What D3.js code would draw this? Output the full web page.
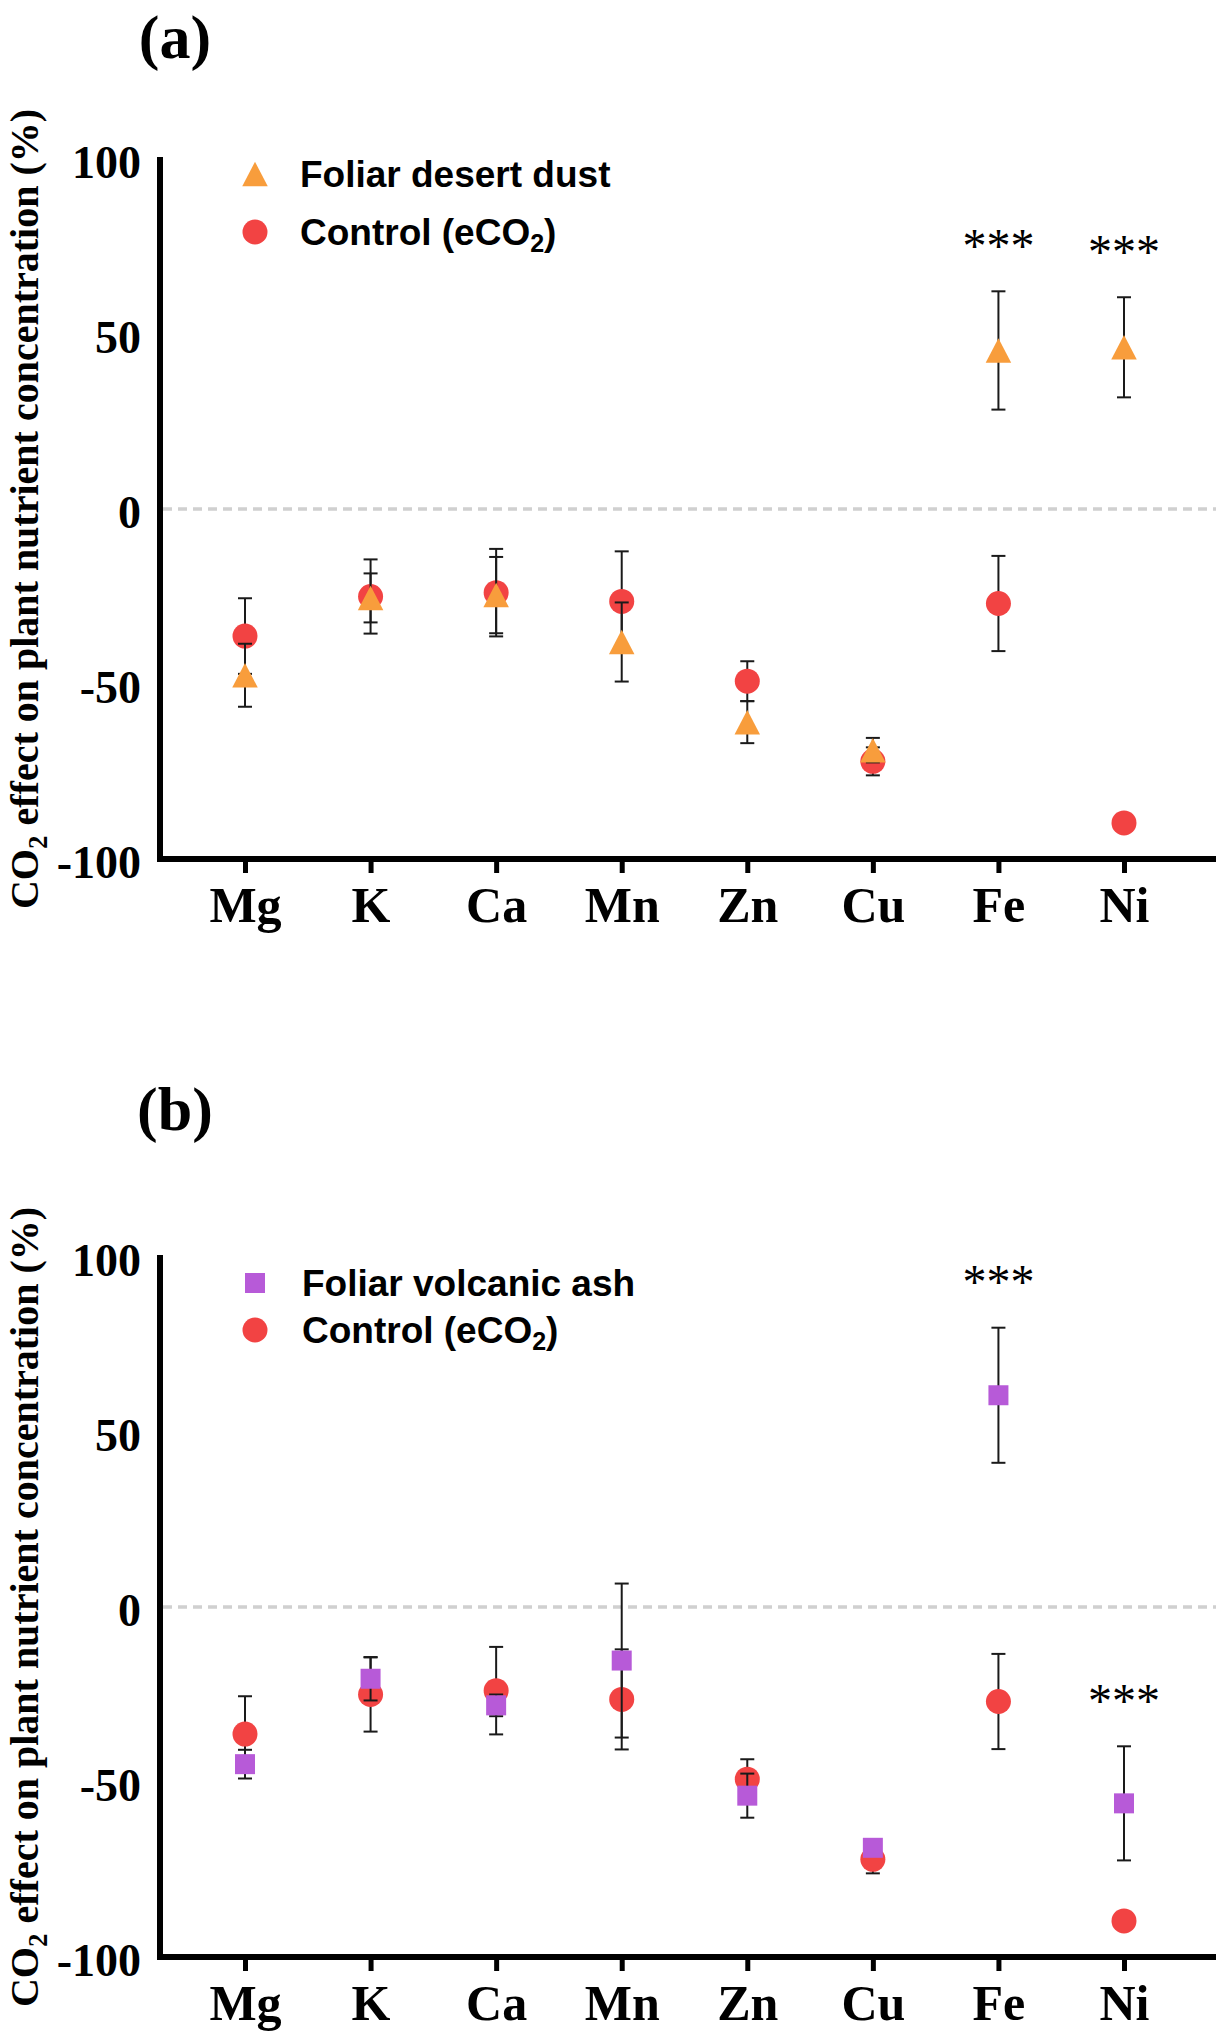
<!DOCTYPE html>
<html>
<head>
<meta charset="utf-8">
<script src="https://cdn.jsdelivr.net/npm/d3@7"></script>
<style>
  body { margin: 0; background: #fff; }
  svg { display: block; }
  .serif { font-family: "Liberation Serif", "Times New Roman", serif; font-weight: bold; }
  .sans  { font-family: "Liberation Sans", Arial, sans-serif; font-weight: bold; }
</style>
</head>
<body>
<div id="chart"></div>
<script>
// === CO2 effect on nutrient concentration, two panels — D3 v7 ===

// data
const elements = ["Mg", "K", "Ca", "Mn", "Zn", "Cu", "Fe", "Ni"];
const yTicks = [-100, -50, 0, 50, 100];

const controlMean = [-36.3, -25.0, -23.9, -26.4, -49.2, -72.1, -27.0, -89.7];
const controlErr  = [10.8, 10.6, 12.5, 14.3, 5.7, 4.0, 13.6, 0];

const dustMean = [-47.5, -25.4, -24.6, -38.0, -60.9, -68.9, 45.3, 46.2];
const dustErr  = [9.0, 7.0, 10.9, 11.3, 6.0, 3.5, 16.9, 14.3];
const dustSig  = ["Fe", "Ni"];

const ashMean = [-44.9, -20.5, -28.1, -15.3, -53.9, -68.8, 60.5, -56.1];
const ashErr  = [4.1, 6.2, 3.1, 22.0, 6.3, 2.0, 19.3, 16.3];
const ashSig  = ["Fe", "Ni"];

// sizing
const W = 1224, H = 2032;
const axisLeft = 160, axisRight = 1216;
const red = "#f24343", orange = "#f89d3c", purple = "#b75ad8";

const svg = d3.select("#chart").append("svg")
  .attr("width", W)
  .attr("height", H);
svg.append("rect").attr("width", W).attr("height", H).attr("fill", "#fff");

const x = d3.scalePoint().domain(elements).range([245, 1124]);

// triangle centred on its bounding box (size = width)
const triangle = {
  draw(ctx, size) {
    const w = size, h = size * 0.96;
    ctx.moveTo(0, -h / 2);
    ctx.lineTo(w / 2, h / 2);
    ctx.lineTo(-w / 2, h / 2);
    ctx.closePath();
  }
};
const sym = {
  circle:   d3.symbol().type(d3.symbolCircle).size(Math.PI * 12.5 * 12.5),
  square:   d3.symbol().type(d3.symbolSquare).size(400),
  triangle: d3.symbol().type(triangle).size(25.5)
};

function addCO2(textSel, before, after, subSize, shift) {
  textSel.append("tspan").text(before);
  textSel.append("tspan").attr("font-size", subSize).attr("dy", shift).text("2");
  textSel.append("tspan").attr("dy", -shift).text(after);
}

function drawPanel(p) {
  const g = svg.append("g");
  const y = d3.scaleLinear().domain([-100, 100]).range([p.top + 700, p.top]);

  // panel letter
  g.append("text").attr("class", "serif")
    .attr("x", 175).attr("y", p.letterY)
    .attr("text-anchor", "middle").attr("font-size", 62)
    .text(p.letter);

  // zero reference line
  g.append("line")
    .attr("x1", axisLeft + 3).attr("x2", axisRight)
    .attr("y1", y(0)).attr("y2", y(0))
    .attr("stroke", "#d0d0d0").attr("stroke-width", 3.5)
    .attr("stroke-dasharray", "9,6");

  // y axis
  const yAxisG = g.append("g").attr("transform", `translate(${axisLeft},0)`)
    .call(d3.axisLeft(y).tickValues(yTicks).tickSize(0).tickPadding(19)
      .tickFormat(d => String(d)));
  yAxisG.select(".domain").remove();
  yAxisG.selectAll("text").attr("class", "serif").attr("font-size", 46)
    .attr("dy", "0.4em").attr("fill", "#000");

  // x axis
  const xAxisG = g.append("g").attr("transform", `translate(0,${y(-100)})`)
    .call(d3.axisBottom(x).tickSize(14).tickSizeOuter(0));
  xAxisG.select(".domain").remove();
  xAxisG.selectAll(".tick line").attr("stroke", "#000").attr("stroke-width", 5);
  xAxisG.selectAll("text").attr("class", "serif").attr("font-size", 50)
    .attr("y", 63).attr("dy", 0).attr("fill", "#000");

  // axis lines
  g.append("line").attr("x1", axisLeft).attr("x2", axisLeft)
    .attr("y1", y(100) - 2).attr("y2", y(-100))
    .attr("stroke", "#000").attr("stroke-width", 6);
  g.append("line").attr("x1", axisLeft - 3).attr("x2", axisRight)
    .attr("y1", y(-100)).attr("y2", y(-100))
    .attr("stroke", "#000").attr("stroke-width", 6);

  // y axis title
  const yt = g.append("text").attr("class", "serif")
    .attr("transform", `translate(38,${y(0)}) rotate(-90)`)
    .attr("text-anchor", "middle").attr("font-size", 40);
  addCO2(yt, "CO", " effect on plant nutrient concentration (%)", 27, 9);

  // one series: error bars then markers
  function series(means, errs, shape, color) {
    const rows = elements.map((el, i) => ({ el, m: means[i], e: errs[i] }));
    const bars = g.append("g").attr("stroke", "#1a1a1a").attr("stroke-width", 2)
      .selectAll("g").data(rows.filter(d => d.e > 0)).join("g");
    bars.append("line")
      .attr("x1", d => x(d.el)).attr("x2", d => x(d.el))
      .attr("y1", d => y(d.m - d.e)).attr("y2", d => y(d.m + d.e));
    bars.selectAll("line.cap").data(d => [d.m - d.e, d.m + d.e].map(v => ({ el: d.el, v })))
      .join("line").attr("class", "cap")
      .attr("x1", d => x(d.el) - 7).attr("x2", d => x(d.el) + 7)
      .attr("y1", d => y(d.v)).attr("y2", d => y(d.v));
    g.append("g").selectAll("path").data(rows).join("path")
      .attr("d", shape)
      .attr("transform", d => `translate(${x(d.el)},${y(d.m)})`)
      .attr("fill", color);
    return rows;
  }

  series(controlMean, controlErr, sym.circle, red);
  const treat = series(p.means, p.errs, p.shape, p.color);

  // significance stars
  g.append("g").selectAll("text").data(treat.filter(d => p.sig.includes(d.el))).join("text")
    .attr("x", d => x(d.el))
    .attr("y", d => y(d.m + d.e + 15) + 23)
    .attr("text-anchor", "middle")
    .attr("font-family", "'Liberation Serif', 'Times New Roman', serif")
    .attr("font-size", 48)
    .text("***");

  // legend
  const lg = g.append("g");
  const r1 = p.legendY[0], r2 = p.legendY[1];
  lg.append("path").attr("d", p.shape).attr("fill", p.color)
    .attr("transform", `translate(255,${r1})`);
  lg.append("text").attr("class", "sans").attr("font-size", 37)
    .attr("x", p.legendX).attr("y", r1 + 13).text(p.name);
  lg.append("path").attr("d", sym.circle).attr("fill", red)
    .attr("transform", `translate(255,${r2})`);
  const ct = lg.append("text").attr("class", "sans").attr("font-size", 37)
    .attr("x", p.legendX).attr("y", r2 + 13);
  addCO2(ct, "Control (eCO", ")", 25, 7);
}

drawPanel({
  top: 159, letter: "(a)", letterY: 58,
  means: dustMean, errs: dustErr, sig: dustSig,
  shape: sym.triangle, color: orange,
  name: "Foliar desert dust", legendX: 300, legendY: [174, 232]
});

drawPanel({
  top: 1257, letter: "(b)", letterY: 1130,
  means: ashMean, errs: ashErr, sig: ashSig,
  shape: sym.square, color: purple,
  name: "Foliar volcanic ash", legendX: 302, legendY: [1283, 1330]
});
</script>
</body>
</html>
